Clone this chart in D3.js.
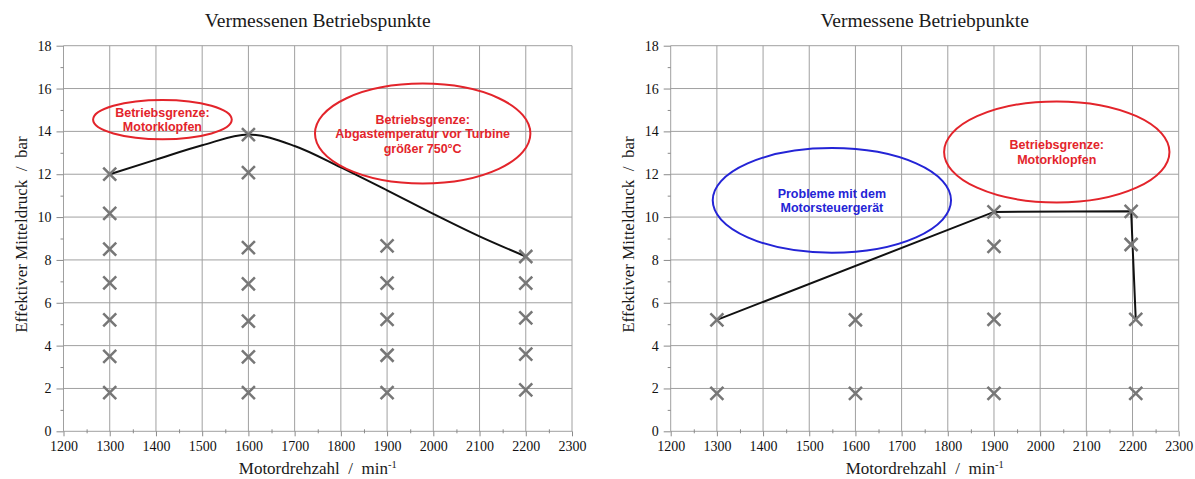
<!DOCTYPE html>
<html>
<head>
<meta charset="utf-8">
<script src="https://cdn.jsdelivr.net/npm/d3@7"></script>
<style>
  html, body { margin: 0; padding: 0; background: #fff; }
  svg { display: block; }
  text { white-space: pre; }
</style>
</head>
<body>
<svg id="chart" width="1195" height="479"></svg>
<script>
// ---------------- DATA ----------------
const xTickValues = [1200, 1300, 1400, 1500, 1600, 1700, 1800, 1900, 2000, 2100, 2200, 2300];
const xMinorTicks = [1250, 1350, 1450, 1550, 1650, 1750, 1850, 1950, 2050, 2150, 2250];
const yTickValues = [0, 2, 4, 6, 8, 10, 12, 14, 16, 18];
const yMinorTicks = [1, 3, 5, 7, 9, 11, 13, 15, 17];

const leftTitle = "Vermessenen Betriebspunkte";
const rightTitle = "Vermessene Betriebpunkte";
const xAxisTitle = "Motordrehzahl  /  min";
const xAxisTitleSup = "-1";
const yAxisTitle = "Effektiver Mitteldruck  /  bar";

// left panel: measured operating points
const leftPointRpm = [1300, 1300, 1300, 1300, 1300, 1300, 1300,
                      1600, 1600, 1600, 1600, 1600, 1600, 1600,
                      1900, 1900, 1900, 1900, 1900,
                      2200, 2200, 2200, 2200, 2200];
const leftPointBar = [12.0, 10.17, 8.5, 6.93, 5.2, 3.5, 1.8,
                      13.85, 12.07, 8.57, 6.88, 5.14, 3.47, 1.81,
                      8.66, 6.92, 5.23, 3.55, 1.81,
                      8.16, 6.92, 5.29, 3.6, 1.93];
// left panel: full-load curve
const leftCurveRpm = [1300, 1400, 1500, 1600, 1700, 1800, 1900, 2000, 2100, 2200];
const leftCurveBar = [12.0, 12.68, 13.35, 13.85, 13.32, 12.32, 11.25, 10.15, 9.1, 8.16];

// right panel: measured operating points
const rightPointRpm = [1300, 1300, 1600, 1600, 1900, 1900, 1900, 1900, 2197, 2197, 2207, 2207];
const rightPointBar = [5.2, 1.77, 5.2, 1.77, 10.24, 8.63, 5.22, 1.77, 10.27, 8.72, 5.22, 1.77];
// right panel: full-load line
const rightLineRpm = [1300, 1900, 2197, 2207];
const rightLineBar = [5.2, 10.24, 10.27, 5.22];

// annotations (ellipses in data units: centre rpm, centre bar, radius rpm, radius bar)
const leftNoteCx = [1414, 1977];
const leftNoteCy = [14.55, 13.9];
const leftNoteRx = [150, 233];
const leftNoteRy = [0.92, 2.33];
const leftNoteColor = ["red", "red"];
const leftNoteText = [["Betriebsgrenze:", "Motorklopfen"],
                      ["Betriebsgrenze:", "Abgastemperatur vor Turbine", "größer 750°C"]];

const rightNoteCx = [1549, 2036];
const rightNoteCy = [10.78, 13.04];
const rightNoteRx = [258, 244];
const rightNoteRy = [2.44, 2.36];
const rightNoteColor = ["blue", "red"];
const rightNoteText = [["Probleme mit dem", "Motorsteuergerät"],
                       ["Betriebsgrenze:", "Motorklopfen"]];

// ---------------- DRAWING ----------------
const colors = { red: "#e3242b", blue: "#2424d6" };
const svg = d3.select("#chart");
const serif = "'Liberation Serif', 'Times New Roman', serif";
const sans = "'Liberation Sans', Arial, sans-serif";

function drawPanel(opt) {
  const x = d3.scaleLinear().domain([1200, 2300]).range([opt.x0, opt.x1]);
  const y = d3.scaleLinear().domain([0, 18]).range([431.3, 45.7]);
  const g = svg.append("g");

  // grid
  g.append("g").selectAll("line").data(xTickValues).join("line")
    .attr("x1", d => x(d)).attr("x2", d => x(d))
    .attr("y1", y(18)).attr("y2", y(0))
    .attr("stroke", "#a0a0a0").attr("stroke-width", 1);
  g.append("g").selectAll("line").data(yTickValues).join("line")
    .attr("x1", x(1200)).attr("x2", x(2300))
    .attr("y1", d => y(d)).attr("y2", d => y(d))
    .attr("stroke", "#a0a0a0").attr("stroke-width", 1);

  // axes
  const xAxis = g.append("g").attr("transform", `translate(0,${y(0)})`)
    .call(d3.axisBottom(x).tickValues(xTickValues).tickSize(5).tickPadding(5).tickFormat(d3.format("d")));
  const xMinor = g.append("g").attr("transform", `translate(0,${y(0) + 2})`)
    .call(d3.axisBottom(x).tickValues(xMinorTicks).tickSize(-4).tickFormat(""));
  const yAxis = g.append("g").attr("transform", `translate(${x(1200)},0)`)
    .call(d3.axisLeft(y).tickValues(yTickValues).tickSize(7).tickPadding(5).tickFormat(d3.format("d")));
  const yMinor = g.append("g").attr("transform", `translate(${x(1200)},0)`)
    .call(d3.axisLeft(y).tickValues(yMinorTicks).tickSize(3).tickFormat(""));
  [xAxis, xMinor, yAxis, yMinor].forEach(a => {
    a.select(".domain").remove();
    a.selectAll("line").attr("stroke", "#8a8a8a");
    a.selectAll("text").attr("font-family", serif).attr("font-size", 14).attr("fill", "#111");
  });

  // title
  g.append("text").attr("x", (opt.x0 + opt.x1) / 2).attr("y", 27)
    .attr("text-anchor", "middle").attr("font-family", serif).attr("font-size", 19.5)
    .attr("fill", "#1a1a1a").text(opt.title);

  // x axis title
  const xt = g.append("text").attr("x", (opt.x0 + opt.x1) / 2).attr("y", 474)
    .attr("text-anchor", "middle").attr("font-family", serif).attr("font-size", 17)
    .attr("fill", "#1a1a1a");
  xt.append("tspan").text(xAxisTitle);
  xt.append("tspan").attr("font-size", 10.5).attr("dy", -6).text(xAxisTitleSup);

  // y axis title
  g.append("text")
    .attr("transform", `translate(${opt.x0 - 37},${(y(0) + y(18)) / 2 - 4}) rotate(-90)`)
    .attr("text-anchor", "middle").attr("font-family", serif).attr("font-size", 17)
    .attr("fill", "#1a1a1a").text(yAxisTitle);

  // line
  const pts = opt.lineRpm.map((r, i) => [r, opt.lineBar[i]]);
  g.append("path").datum(pts)
    .attr("d", d3.line().x(d => x(d[0])).y(d => y(d[1])).curve(opt.curve))
    .attr("fill", "none").attr("stroke", "#111").attr("stroke-width", 2);

  // markers (X)
  const s = 6.5;
  const mk = g.append("g");
  opt.pointRpm.forEach((r, i) => {
    const cx = x(r), cy = y(opt.pointBar[i]);
    mk.append("path")
      .attr("d", `M${cx - s},${cy - s}L${cx + s},${cy + s}M${cx - s},${cy + s}L${cx + s},${cy - s}`)
      .attr("stroke", "#777").attr("stroke-width", 2.5).attr("fill", "none");
  });

  // annotations
  opt.noteCx.forEach((c, i) => {
    const col = colors[opt.noteColor[i]];
    const cx = x(c), cy = y(opt.noteCy[i]);
    g.append("ellipse").attr("cx", cx).attr("cy", cy)
      .attr("rx", x(c + opt.noteRx[i]) - cx).attr("ry", cy - y(opt.noteCy[i] + opt.noteRy[i]))
      .attr("fill", "none").attr("stroke", col).attr("stroke-width", 2);
    const lines = opt.noteText[i];
    const lh = 14.5;
    const t = g.append("text").attr("text-anchor", "middle")
      .attr("font-family", sans).attr("font-weight", "bold").attr("font-size", 12.5)
      .attr("fill", col);
    lines.forEach((ln, j) => {
      t.append("tspan").attr("x", cx)
        .attr("y", cy + (j - (lines.length - 1) / 2) * lh + 4.5).text(ln);
    });
  });
}

drawPanel({
  x0: 63.5, x1: 572, title: leftTitle,
  lineRpm: leftCurveRpm, lineBar: leftCurveBar, curve: d3.curveMonotoneX,
  pointRpm: leftPointRpm, pointBar: leftPointBar,
  noteCx: leftNoteCx, noteCy: leftNoteCy, noteRx: leftNoteRx, noteRy: leftNoteRy,
  noteColor: leftNoteColor, noteText: leftNoteText
});
drawPanel({
  x0: 670.7, x1: 1178.7, title: rightTitle,
  lineRpm: rightLineRpm, lineBar: rightLineBar, curve: d3.curveLinear,
  pointRpm: rightPointRpm, pointBar: rightPointBar,
  noteCx: rightNoteCx, noteCy: rightNoteCy, noteRx: rightNoteRx, noteRy: rightNoteRy,
  noteColor: rightNoteColor, noteText: rightNoteText
});
</script>
</body>
</html>
